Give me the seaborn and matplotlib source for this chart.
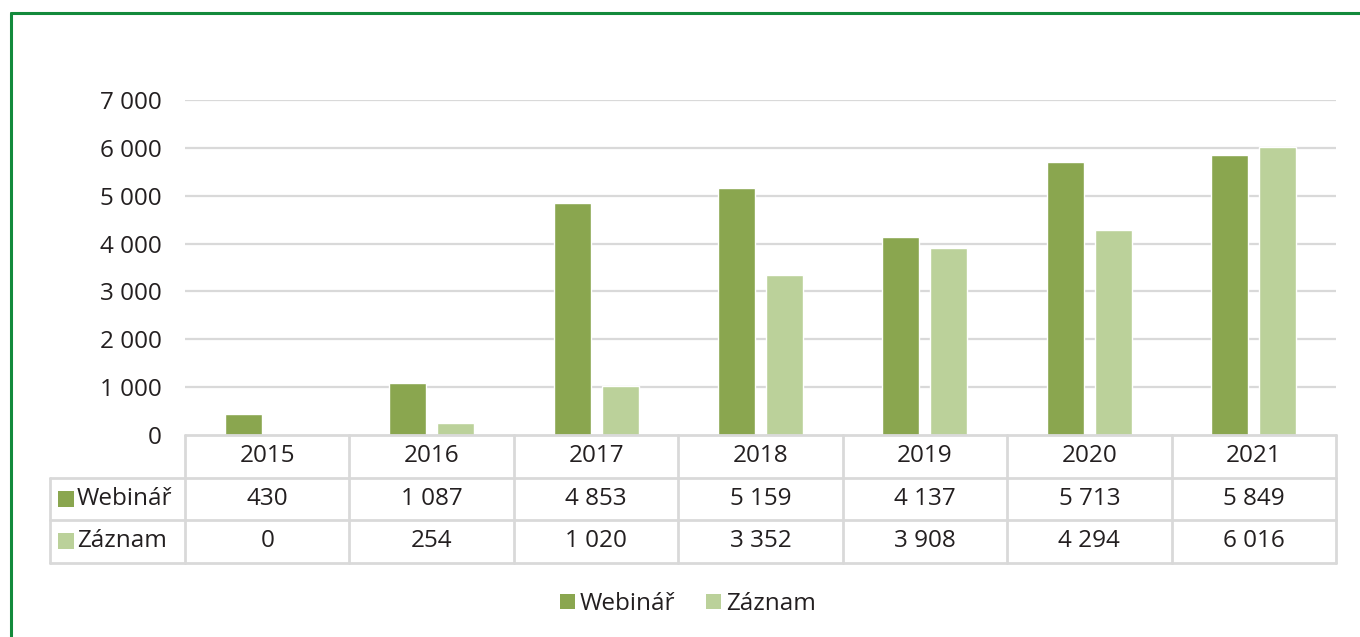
## IMPORTS
import numpy as np
import pandas as pd

import matplotlib
matplotlib.use('Agg')
import matplotlib.pyplot as plt
import matplotlib.transforms as mtransforms
from matplotlib.patches import Rectangle
from matplotlib.lines import Line2D
import seaborn as sns

## DATA
years = ['2015', '2016', '2017', '2018', '2019', '2020', '2021']
webinar = [430, 1087, 4853, 5159, 4137, 5713, 5849]
zaznam = [0, 254, 1020, 3352, 3908, 4294, 6016]
series_names = ['Webinář', 'Záznam']
y_ticks = [0, 1000, 2000, 3000, 4000, 5000, 6000, 7000]

colors = ['#8aa64f', '#bbd19a']
text_color = '#231f20'
line_color = '#d9d9d9'

def fmt(v):
    # czech thousand separator is a space
    return f'{v:,}'.replace(',', ' ')

df = pd.DataFrame({
    'year': years * 2,
    'value': webinar + zaznam,
    'series': [series_names[0]] * len(years) + [series_names[1]] * len(years),
})

## PLOT
sns.set_style('white')
plt.rcParams['font.family'] = ['Open Sans', 'DejaVu Sans']

fig = plt.figure(figsize=(13.6, 6.37), dpi=100)
W, H = 1360, 637
ax = fig.add_axes([185 / W, 1 - 435 / H, (1336 - 185) / W, (435 - 100) / H])

sns.barplot(data=df, x='year', y='value', hue='series', palette=colors,
            width=0.584, gap=0.23, ax=ax, legend=False, saturation=1)

ax.set_xlim(-0.5, len(years) - 0.5)
ax.set_ylim(0, 7000)
ax.set_yticks(y_ticks)
ax.set_yticklabels([fmt(t) for t in y_ticks], fontsize=17.5, color=text_color)
ax.set_xticks([])
ax.set_xlabel('')
ax.set_ylabel('')
ax.tick_params(axis='y', length=0, pad=17)
for t in y_ticks[1:]:
    ax.axhline(t, color=line_color, lw=1.6, zorder=0)
for s in ax.spines.values():
    s.set_visible(False)

# data table under the bars
trans = mtransforms.blended_transform_factory(ax.transData, ax.transAxes)
cat_w = (1336 - 185) / 7
row_h = 42.5 / 335
left_x = -0.5 - (185 - 50) / cat_w
right_x = len(years) - 0.5
n = len(years)

def hline(x0, x1, y):
    ax.add_line(Line2D([x0, x1], [y, y], transform=trans, color=line_color, lw=2, clip_on=False))

def vline(x, y0, y1):
    ax.add_line(Line2D([x, x], [y0, y1], transform=trans, color=line_color, lw=2, clip_on=False))

hline(-0.5, right_x, 0)
hline(left_x, right_x, -row_h)
hline(left_x, right_x, -2 * row_h)
hline(left_x, right_x, -3 * row_h)
vline(left_x, -3 * row_h, -row_h)
for i in range(n + 1):
    vline(i - 0.5, -3 * row_h, 0)

for i, yr in enumerate(years):
    ax.text(i, -0.5 * row_h, yr, transform=trans, ha='center', va='center',
            fontsize=17.5, color=text_color)
    ax.text(i, -1.5 * row_h, fmt(webinar[i]), transform=trans, ha='center', va='center',
            fontsize=17.5, color=text_color)
    ax.text(i, -2.5 * row_h, fmt(zaznam[i]), transform=trans, ha='center', va='center',
            fontsize=17.5, color=text_color)

sq_w = 16 / cat_w
sq_h = 16 / 335
for r, (name, c) in enumerate(zip(series_names, colors)):
    yc = -(1.5 + r) * row_h
    x0 = left_x + 8 / cat_w
    ax.add_patch(Rectangle((x0, yc - sq_h / 2), sq_w, sq_h, transform=trans,
                           facecolor=c, edgecolor='none', clip_on=False))
    ax.text(x0 + sq_w + 3 / cat_w, yc, name, transform=trans, ha='left', va='center',
            fontsize=17.5, color=text_color)

# legend at the bottom
handles = [Rectangle((0, 0), 1, 1, facecolor=c, edgecolor='none') for c in colors]
fig.legend(handles, series_names, loc='center', bbox_to_anchor=(688 / W, 1 - 604 / H),
           ncol=2, frameon=False, fontsize=17.5, handlelength=0.62, handleheight=0.62,
           handletextpad=0.22, columnspacing=1.25, labelcolor=text_color)

# green frame (left and top)
frame_c = '#138a3c'
fig.add_artist(Line2D([11 / W, 11 / W], [0, 1 - 13 / H], color=frame_c, lw=2.2))
fig.add_artist(Line2D([11 / W, 1], [1 - 13 / H, 1 - 13 / H], color=frame_c, lw=2.2))

fig.savefig('out.png', dpi=100)
